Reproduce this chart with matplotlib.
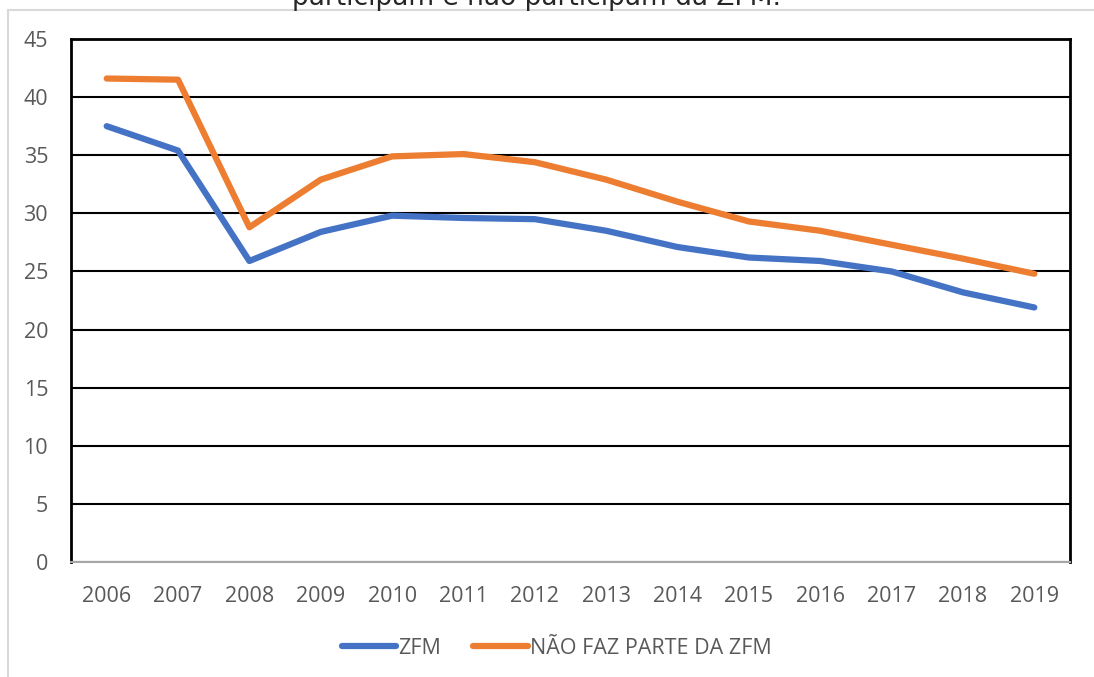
import matplotlib
matplotlib.use("Agg")
import matplotlib.pyplot as plt
from matplotlib.patches import Rectangle

# data
years = [2006, 2007, 2008, 2009, 2010, 2011, 2012, 2013, 2014, 2015, 2016, 2017, 2018, 2019]
zfm = [37.5, 35.4, 25.9, 28.4, 29.8, 29.6, 29.5, 28.5, 27.1, 26.2, 25.9, 25.0, 23.2, 21.9]
nao_zfm = [41.6, 41.5, 28.8, 32.9, 34.9, 35.1, 34.4, 32.9, 31.0, 29.3, 28.5, 27.3, 26.1, 24.8]
y_ticks = [0, 5, 10, 15, 20, 25, 30, 35, 40, 45]

plt.rcParams['font.family'] = ['Open Sans', 'DejaVu Sans']

fig = plt.figure(figsize=(10.94, 6.77), dpi=100)

# outer chart border (light gray), runs off the bottom/right of the image
fig.patches.append(Rectangle((8 / 1094, -0.1), 1.2, 1 - 10 / 677 + 0.1,
                             transform=fig.transFigure, fill=False,
                             edgecolor='#d9d9d9', linewidth=1.5))

# title, cut off by the top edge as in the source
fig.text(0.49, 1 - 5 / 677, 'participam e não participam da ZFM.',
         ha='center', va='baseline', fontsize=19, color='#262626',
         family=['DejaVu Sans'])

ax = fig.add_axes([71 / 1094, 1 - 562 / 677, (1070 - 71) / 1094, (562 - 39) / 677])

x = list(range(len(years)))
ax.plot(x, zfm, color='#4472c4', linewidth=4.5, solid_capstyle='round',
        solid_joinstyle='round', label='ZFM', zorder=3)
ax.plot(x, nao_zfm, color='#ed7d31', linewidth=4.5, solid_capstyle='round',
        solid_joinstyle='round', label='NÃO FAZ PARTE DA ZFM', zorder=3)

ax.set_xlim(-0.5, len(years) - 0.5)
ax.set_ylim(0, 45)
ax.set_yticks(y_ticks)
ax.set_xticks(x)
ax.set_xticklabels([str(y) for y in years])
ax.grid(axis='y', color='black', linewidth=1.5)
ax.set_axisbelow(True)

for side in ('left', 'right', 'top'):
    ax.spines[side].set_color('black')
    ax.spines[side].set_linewidth(2)
ax.spines['bottom'].set_color('#a6a6a6')
ax.spines['bottom'].set_linewidth(1.5)

ax.tick_params(length=0, labelsize=15.5, labelcolor='#595959')
ax.tick_params(axis='x', pad=17)
ax.tick_params(axis='y', pad=16.5)

ax.legend(loc='center', bbox_to_anchor=(0.486, -0.165), ncol=2, frameon=False,
          fontsize=15.5, handlelength=2.55, handletextpad=0.1, columnspacing=1.45,
          labelcolor='#595959')

fig.savefig('out.png', dpi=100)
